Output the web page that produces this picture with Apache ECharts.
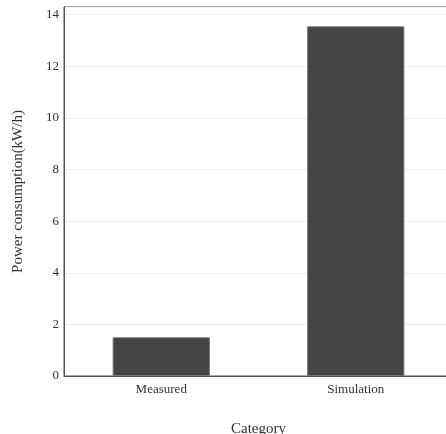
<!DOCTYPE html>
<html>
<head>
<meta charset="utf-8">
<script src="https://cdn.jsdelivr.net/npm/echarts@6/dist/echarts.min.js"></script>
<style>html,body{margin:0;padding:0;background:#fff}#c{width:446px;height:434px}</style>
</head>
<body>
<div id="c"></div>
<script>
const categories = ['Measured', 'Simulation'];
const values = [1.5, 13.55];
const yTicks = [0, 2, 4, 6, 8, 10, 12, 14];

const chart = echarts.init(document.getElementById('c'));
const font = '"Liberation Serif", "Times New Roman", serif';
chart.setOption({
  animation: false,
  backgroundColor: '#fff',
  grid: { left: 64, top: 7, width: 389, bottom: 58, outerBoundsMode: 'none', containLabel: false,
    show: true, borderColor: '#555', borderWidth: 1, backgroundColor: 'transparent' },
  xAxis: {
    type: 'category', data: categories,
    name: 'Category', nameLocation: 'middle', nameGap: 46,
    nameTextStyle: { fontFamily: font, fontSize: 15, color: '#333' },
    axisLine: { lineStyle: { color: '#555' } },
    axisTick: { show: false },
    axisLabel: { fontFamily: font, fontSize: 13, color: '#333', margin: 7 },
    splitLine: { show: false }
  },
  yAxis: {
    type: 'value', min: 0, max: 14.3, interval: 2,
    name: 'Power consumption(kW/h)', nameLocation: 'middle', nameGap: 38,
    nameTextStyle: { fontFamily: font, fontSize: 15, color: '#333' },
    axisLine: { show: true, lineStyle: { color: '#555' } },
    axisTick: { show: false },
    axisLabel: { fontFamily: font, fontSize: 13, color: '#333', margin: 5,
      formatter: v => yTicks.includes(v) ? String(v) : '' },
    splitLine: { lineStyle: { color: '#eee' } }
  },
  series: [{
    type: 'bar', data: values, barWidth: '50%',
    itemStyle: { color: '#444', borderColor: '#777', borderWidth: 1 }
  }]
});
</script>
</body>
</html>
